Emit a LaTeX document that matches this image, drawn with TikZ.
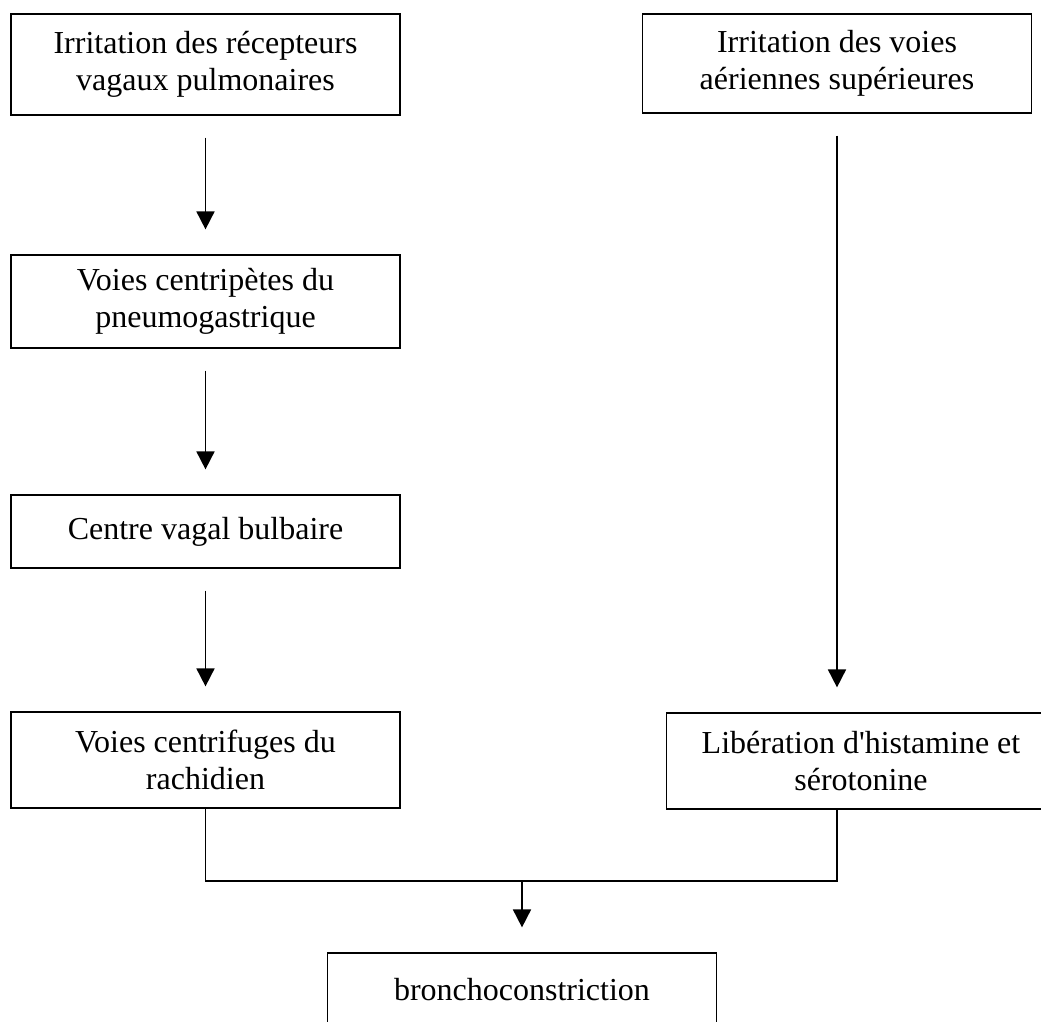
\documentclass[tikz,border=0pt]{standalone}
\usepackage{fontspec}
\setmainfont{Liberation Serif}
\usepackage{tikz}
\usetikzlibrary{arrows.meta,positioning}

\begin{document}
\begin{tikzpicture}[x=0.5pt, y=-0.5pt,
    stage/.style={draw, line width=0.6pt, minimum width=194.5pt, inner sep=0pt, align=center,
      font=\fontsize{16}{18.5}\selectfont},
    flow/.style={->, line width=0.9pt, shorten <=11pt, shorten >=12.5pt},
    >={Triangle[length=9pt, width=9pt]}]
    \useasboundingbox (0,0) rectangle (1041,1022);
    \node[stage, minimum height=50.5pt] (irr1) at (205.5,64.5) {Irritation des récepteurs\\vagaux pulmonaires};
    \node[stage, minimum height=49.5pt] (irr2) at (837,63.5) {Irritation des voies\\aériennes supérieures};
    \node[stage, minimum height=46.5pt] (centri) at (205.5,301.5) {Voies centripètes du\\pneumogastrique};
    \node[stage, minimum height=36.5pt] (bulb) at (205.5,531.5) {Centre vagal bulbaire};
    \node[stage, minimum height=48pt] (centrif) at (205.5,760) {Voies centrifuges du\\rachidien};
    \node[stage, minimum height=48pt] (hist) at (861,761) {Libération d\textquotesingle histamine et\\sérotonine};
    \node[stage, minimum height=37pt] (broncho) at (522,990) {bronchoconstriction};
    \coordinate (join) at (522,881);
    \draw[flow] (irr1) -- (centri);
    \draw[flow] (centri) -- (bulb);
    \draw[flow] (bulb) -- (centrif);
    \draw[flow] (irr2.south) -- (irr2.south |- hist.north);
    \draw[line width=0.9pt] (centrif.south) |- (join) -| (hist.south -| irr2.south);
    \draw[flow, shorten <=0pt] (join) -- (broncho);
\end{tikzpicture}
\end{document}
